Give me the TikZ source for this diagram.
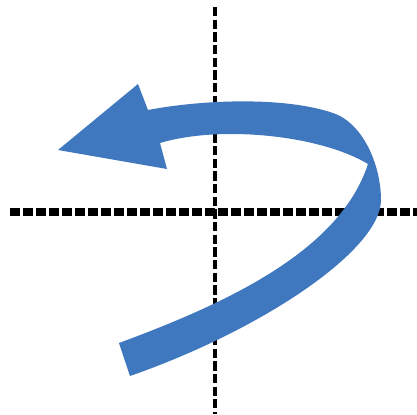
\documentclass[tikz,border=0pt]{standalone}
\definecolor{arrowblue}{RGB}{64,120,192}
\tikzset{
  vaxis/.style={line width=2.7pt, dash pattern=on 5.3pt off 1.9pt, black},
  haxis/.style={line width=4.2pt, dash pattern=on 5.7pt off 1.7pt, black},
  bigarrow/.style={fill=arrowblue, draw=none}
}
\begin{document}
\begin{tikzpicture}[x=0.02cm, y=-0.02cm]
  \useasboundingbox (0,0) rectangle (417,414);
  \coordinate (vtop) at (215,7);
  \coordinate (vbot) at (215,414);
  \coordinate (hl) at (10,212);
  \coordinate (hr) at (417,212);
  \draw[vaxis] (vtop) -- (vbot);
  \draw[haxis] (hl) -- (hr);
  \path[bigarrow]
    (119,343) .. controls (230,302) and (340,250) .. (368,164)
    .. controls (320,135) and (220,125) .. (160,143)
    -- (167,169) -- (58,150) -- (138,84) -- (148,110)
    .. controls (200,100) and (283,96) .. (333,113)
    .. controls (363,123) and (381,165) .. (381,200)
    .. controls (381,250) and (262,330) .. (130,376)
    -- cycle;
\end{tikzpicture}
\end{document}
